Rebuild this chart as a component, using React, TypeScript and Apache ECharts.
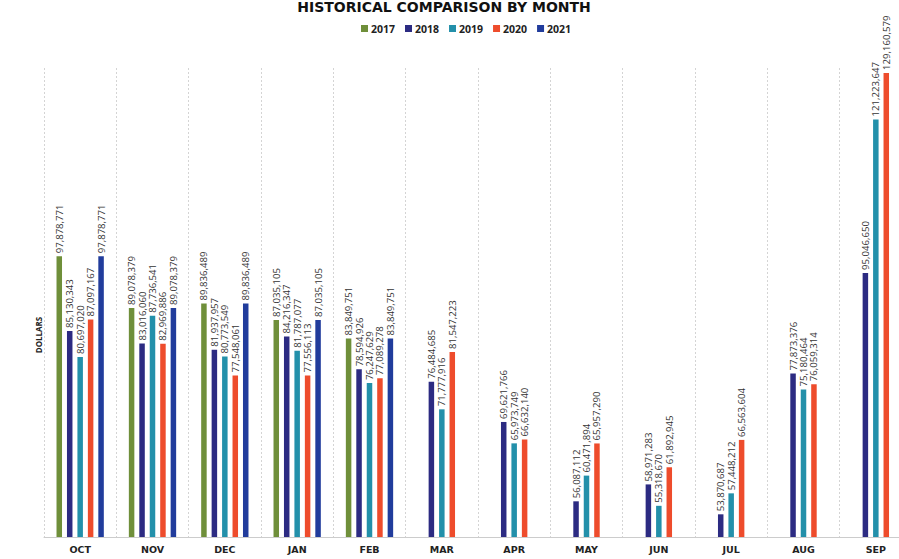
import React, { useEffect, useRef } from "react";
import * as echarts from "echarts";

const months = ["OCT", "NOV", "DEC", "JAN", "FEB", "MAR", "APR", "MAY", "JUN", "JUL", "AUG", "SEP"];
const years = ["2017", "2018", "2019", "2020", "2021"];
const s2017 = [97878771, 89078379, 89836489, 87035105, 83849751, null, null, null, null, null, null, null];
const s2018 = [85130343, 83016060, 81937957, 84216347, 78594926, 76484685, 69621766, 56087112, 58971283, 53870687, 77873376, 95046650];
const s2019 = [80697020, 87736541, 80773549, 81787077, 76247629, 71777916, 65973749, 60471894, 55318670, 57448212, 75180464, 121223647];
const s2020 = [87097167, 82969886, 77548061, 77556113, 77089278, 81547223, 66632140, 65957290, 61892945, 66563604, 76059314, 129160579];
const s2021 = [97878771, 89078379, 89836489, 87035105, 83849751, null, null, null, null, null, null, null];
const seriesData = [s2017, s2018, s2019, s2020, s2021];
const colors = ["#6f8f3a", "#2c2b82", "#2390aa", "#ee4c2c", "#213c9c"];

export default function App() {
  const ref = useRef<HTMLDivElement>(null);
  useEffect(() => {
    if (!ref.current) return;
    const chart = echarts.init(ref.current, null, { renderer: "svg" });
    const fmt = (v: number) => v.toLocaleString("en-US");
    chart.setOption({
      animation: false,
      backgroundColor: "#ffffff",
      title: {
        text: "HISTORICAL COMPARISON BY MONTH",
        left: 444,
        textAlign: "center",
        top: 0,
        padding: 0,
        textStyle: { fontFamily: "DejaVu Sans", fontWeight: "bold", fontSize: 14, color: "#111" },
      },
      legend: {
        data: years,
        left: 356,
        top: 18,
        itemWidth: 7,
        itemHeight: 7,
        itemGap: 10,
        icon: "rect",
        textStyle: { fontFamily: "Open Sans", fontWeight: "bold", fontSize: 10.5, color: "#222", padding: [0, 0, 0, -2] },
      },
      graphic: [
        {
          type: "text",
          x: 38,
          y: 335,
          rotation: Math.PI / 2,
          style: {
            text: "DOLLARS",
            fontFamily: "Open Sans",
            fontWeight: "bold",
            fontSize: 8,
            fill: "#222",
            align: "center",
            verticalAlign: "middle",
          },
        },
      ],
      grid: { left: 44, right: 0, top: 68, bottom: 22 },
      xAxis: {
        type: "category",
        data: months,
        axisTick: { show: false },
        axisLine: { show: true, lineStyle: { color: "#cccccc", width: 1 } },
        axisLabel: {
          margin: 7,
          fontFamily: "DejaVu Sans",
          fontWeight: "bold",
          fontSize: 9.5,
          color: "#222",
        },
        splitLine: { show: true, interval: 0, lineStyle: { color: "#d4d4d4", type: [2, 2], width: 1 } },
      },
      yAxis: {
        type: "value",
        min: 50000000,
        max: 130000000,
        show: true,
        axisLine: { show: false },
        axisTick: { show: false },
        axisLabel: { show: false },
        splitLine: { show: false },
      },
      series: seriesData.map((d, i) => ({
        name: years[i],
        type: "bar",
        data: d,
        barWidth: 5.5,
        barGap: "90%",
        itemStyle: { color: colors[i] },
        label: {
          show: true,
          position: "top",
          rotate: 90,
          align: "left",
          verticalAlign: "middle",
          distance: 3,
          fontFamily: "Open Sans",
          fontSize: 9.6,
          color: "#333",
          formatter: (p: any) => fmt(p.value),
        },
      })),
    });
    return () => chart.dispose();
  }, []);
  return (
    <div style={{ position: "fixed", left: 0, top: 0, width: 899, height: 559, overflow: "hidden", background: "#fff" }}>
      <div ref={ref} style={{ position: "absolute", left: 0, top: 0, width: 912, height: 559 }} />
    </div>
  );
}
